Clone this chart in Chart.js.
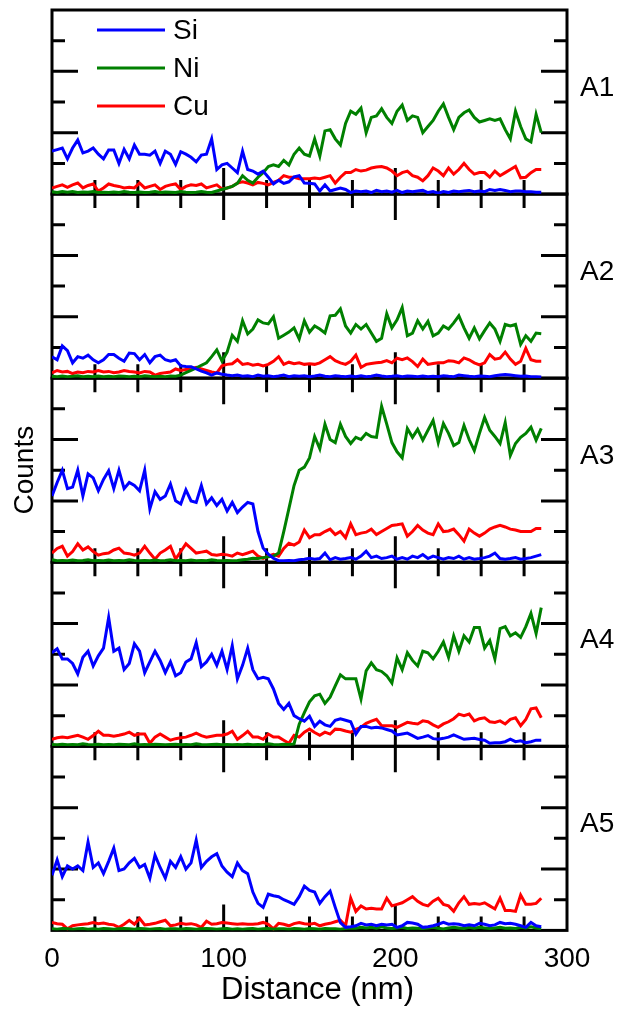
<!DOCTYPE html>
<html>
<head>
<meta charset="utf-8">
<script src="https://cdn.jsdelivr.net/npm/chart.js@4.4.0/dist/chart.umd.min.js"></script>
<style>
  html, body { margin: 0; padding: 0; background: #fff; }
  #wrap { position: relative; width: 623px; height: 1012px; }
</style>
</head>
<body>
<div id="wrap"><canvas id="chart" width="623" height="1012"></canvas></div>
<script>
// distance along the line scan (nm)
const distance = [0,3,6,9,12,15,18,21,24,27,30,33,36,39,42,45,48,51,54,57,60,63,66,69,72,75,78,81,84,87,90,93,96,99,102,105,108,111,114,117,120,123,126,129,132,135,138,141,144,147,150,153,156,159,162,165,168,171,174,177,180,183,186,189,192,195,198,201,204,207,210,213,216,219,222,225,228,231,234,237,240,243,246,249,252,255,258,261,264,267,270,273,276,279,282,285];

const panelNames = ['A1', 'A2', 'A3', 'A4', 'A5'];
const elementNames = ['Si', 'Ni', 'Cu'];
const elementColors = ['#0000ff', '#008000', '#ff0000'];
const yTicks = [1, 2, 3, 4, 5];
const xTicks = [25, 50, 75, 100, 125, 150, 175, 200, 225, 250, 275];
const xTitle = 'Distance (nm)';
const yTitle = 'Counts';

// A1
const siA1 = [1.4,1.45,1.5,1.15,1.5,1.76,1.34,1.4,1.5,1.3,1.15,1.44,
  1.44,1.0,1.46,1.15,1.6,1.3,1.3,1.27,1.4,1.0,1.4,1.3,
  0.97,1.38,1.3,1.2,1.05,1.27,1.3,1.8,0.8,0.95,1.0,0.85,
  0.7,1.4,0.8,0.75,0.65,0.75,0.55,0.33,0.45,0.35,0.4,0.56,
  0.6,0.36,0.35,0.33,0.1,0.3,0.1,0.15,0.2,0.15,0.05,0.1,
  0.08,0.1,0.05,0.12,0.08,0.1,0.06,0.12,0.05,0.1,0.08,0.1,
  0.12,0.05,0.08,0.03,0.08,0.05,0.1,0.08,0.1,0.12,0.08,0.1,
  0.08,0.15,0.12,0.15,0.12,0.08,0.1,0.1,0.08,0.08,0.06,0.06];
const niA1 = [0.08,0.05,0.08,0.06,0.08,0.05,0.07,0.06,0.08,0.05,0.06,0.05,
  0.07,0.05,0.08,0.06,0.05,0.07,0.05,0.06,0.08,0.05,0.07,0.06,
  0.05,0.08,0.06,0.05,0.06,0.08,0.06,0.05,0.1,0.15,0.2,0.25,
  0.35,0.6,0.45,0.36,0.55,0.7,0.9,0.95,0.9,1.1,0.95,1.3,
  1.5,1.3,1.24,1.8,1.24,2.06,2.1,1.8,1.6,2.3,2.7,2.6,
  2.8,2.0,2.5,2.55,2.78,2.5,2.3,2.7,2.9,2.4,2.55,2.5,
  2.0,2.2,2.4,2.7,2.94,2.5,2.1,2.5,2.65,2.74,2.5,2.35,
  2.4,2.45,2.4,2.45,2.1,1.8,2.7,2.2,1.8,1.7,2.6,2.0];
const cuA1 = [0.2,0.25,0.3,0.22,0.3,0.36,0.2,0.28,0.33,0.1,0.2,0.33,
  0.28,0.25,0.2,0.22,0.2,0.36,0.2,0.25,0.3,0.15,0.25,0.3,
  0.33,0.15,0.25,0.3,0.28,0.33,0.2,0.25,0.3,0.17,0.2,0.25,
  0.36,0.4,0.36,0.3,0.38,0.35,0.3,0.38,0.45,0.6,0.55,0.55,
  0.5,0.5,0.5,0.52,0.5,0.55,0.6,0.36,0.55,0.7,0.7,0.8,
  0.75,0.78,0.85,0.88,0.9,0.85,0.75,0.6,0.7,0.75,0.6,0.55,
  0.43,0.6,0.85,0.75,0.6,0.85,0.65,0.8,1.0,0.8,0.65,0.7,
  0.7,0.55,0.75,0.6,0.7,0.8,0.9,0.53,0.55,0.7,0.8,0.8];

// A2
const siA2 = [0.7,0.6,1.05,0.9,0.5,0.7,0.65,0.75,0.6,0.5,0.6,0.77,
  0.77,0.65,0.55,0.82,0.8,0.6,0.77,0.5,0.7,0.75,0.6,0.55,
  0.6,0.4,0.38,0.37,0.3,0.23,0.17,0.1,0.17,0.13,0.1,0.08,
  0.1,0.06,0.08,0.05,0.1,0.06,0.08,0.05,0.07,0.1,0.05,0.08,
  0.06,0.08,0.05,0.07,0.1,0.06,0.05,0.08,0.06,0.05,0.07,0.05,
  0.08,0.05,0.06,0.1,0.07,0.05,0.06,0.08,0.05,0.07,0.06,0.05,
  0.07,0.05,0.06,0.05,0.08,0.06,0.05,0.1,0.08,0.06,0.05,0.07,
  0.06,0.05,0.08,0.1,0.12,0.1,0.08,0.06,0.07,0.05,0.05,0.04];
const niA2 = [0.06,0.05,0.07,0.05,0.06,0.08,0.05,0.06,0.05,0.07,0.05,0.06,
  0.05,0.07,0.06,0.05,0.06,0.05,0.08,0.06,0.05,0.06,0.05,0.07,
  0.06,0.1,0.18,0.25,0.33,0.42,0.5,0.7,0.92,0.56,0.85,1.4,
  1.2,1.87,1.44,1.6,1.9,1.8,1.77,2.0,1.3,1.4,1.5,1.64,
  1.28,1.87,1.5,1.7,1.6,1.47,2.03,2.05,2.26,1.7,1.47,1.75,
  1.6,1.75,1.47,1.2,1.3,2.1,1.64,1.9,2.3,1.38,1.47,1.87,
  1.6,1.85,1.38,1.47,1.7,1.6,1.8,2.03,1.64,1.3,1.64,1.28,
  1.55,1.8,1.6,1.2,1.75,1.7,1.75,1.1,1.38,1.2,1.47,1.45];
const cuA2 = [0.17,0.25,0.2,0.22,0.15,0.2,0.18,0.22,0.2,0.25,0.2,0.22,
  0.18,0.2,0.25,0.22,0.2,0.17,0.22,0.2,0.1,0.15,0.18,0.2,
  0.3,0.25,0.28,0.3,0.35,0.3,0.25,0.2,0.17,0.4,0.45,0.47,
  0.6,0.45,0.48,0.42,0.45,0.4,0.45,0.55,0.7,0.45,0.52,0.47,
  0.5,0.45,0.47,0.45,0.5,0.6,0.7,0.57,0.5,0.45,0.55,0.75,
  0.35,0.45,0.48,0.5,0.52,0.57,0.5,0.65,0.6,0.66,0.54,0.38,
  0.62,0.45,0.48,0.5,0.5,0.57,0.55,0.5,0.66,0.6,0.5,0.43,
  0.5,0.77,0.62,0.65,0.85,0.62,0.45,0.55,0.97,0.6,0.55,0.55];

// A3
const siA3 = [2.16,2.6,3.0,2.4,2.45,3.0,2.16,2.88,2.75,2.33,2.7,2.98,
  2.4,3.0,2.4,2.6,2.5,2.33,3.0,1.74,2.3,2.05,2.16,2.55,
  2.0,1.9,2.36,2.0,1.95,2.5,1.9,2.1,1.85,2.05,1.67,1.95,
  1.62,1.8,1.95,1.9,1.0,0.46,0.26,0.13,0.05,0.05,0.06,0.05,
  0.08,0.1,0.13,0.1,0.12,0.3,0.08,0.15,0.1,0.12,0.15,0.1,
  0.2,0.36,0.15,0.2,0.12,0.15,0.2,0.1,0.15,0.1,0.2,0.15,
  0.25,0.12,0.2,0.15,0.1,0.15,0.12,0.2,0.1,0.15,0.1,0.12,
  0.15,0.2,0.3,0.12,0.1,0.12,0.15,0.1,0.12,0.15,0.2,0.25];
const niA3 = [0.08,0.05,0.06,0.05,0.07,0.05,0.06,0.08,0.05,0.06,0.05,0.07,
  0.05,0.06,0.05,0.08,0.06,0.05,0.06,0.05,0.07,0.05,0.06,0.08,
  0.05,0.06,0.05,0.07,0.05,0.06,0.05,0.08,0.06,0.05,0.06,0.05,
  0.06,0.08,0.1,0.13,0.12,0.15,0.18,0.2,0.3,1.0,1.75,2.5,
  3.0,3.1,3.4,4.1,3.7,4.5,4.0,3.9,4.5,4.1,3.87,4.07,
  4.0,4.2,4.1,4.07,5.08,4.5,3.9,3.6,3.4,4.36,4.07,4.33,
  3.98,4.3,4.62,3.9,4.52,4.2,3.8,3.9,4.46,4.0,3.64,4.2,
  4.72,4.3,4.1,3.87,4.55,3.48,3.87,4.07,4.2,4.4,3.98,4.36];
const cuA3 = [0.3,0.45,0.52,0.2,0.35,0.6,0.4,0.5,0.35,0.23,0.28,0.3,
  0.4,0.46,0.3,0.28,0.23,0.3,0.52,0.3,0.1,0.3,0.4,0.52,
  0.1,0.35,0.6,0.45,0.3,0.33,0.36,0.25,0.23,0.26,0.24,0.2,
  0.3,0.25,0.3,0.36,0.2,0.13,0.2,0.26,0.2,0.45,0.62,0.56,
  0.66,1.05,0.8,0.9,0.9,1.0,1.08,0.9,1.0,0.8,1.25,0.9,
  0.95,0.98,1.08,0.9,1.0,1.1,1.2,1.22,1.25,0.85,1.0,1.2,
  1.05,0.95,0.9,1.25,1.0,1.02,1.08,0.9,0.69,1.08,0.95,0.85,
  0.95,1.08,1.15,1.2,1.15,1.08,1.05,1.0,1.0,1.0,1.1,1.1];

// A4
const siA4 = [3.05,3.18,2.85,2.85,2.7,2.36,2.9,3.1,2.62,2.95,3.2,4.2,
  3.1,3.2,2.5,2.7,3.34,3.1,2.4,2.75,3.1,2.8,2.4,2.75,
  2.3,2.4,2.75,2.85,3.38,2.6,2.75,3.0,2.64,3.1,2.5,3.28,
  2.2,2.64,3.2,2.5,2.2,2.25,2.2,1.87,1.4,1.2,1.4,1.0,
  0.9,0.82,0.98,0.65,0.82,0.7,0.65,0.85,0.9,0.85,0.8,0.4,
  0.65,0.65,0.6,0.62,0.6,0.55,0.5,0.37,0.4,0.43,0.35,0.26,
  0.3,0.35,0.25,0.23,0.26,0.3,0.37,0.3,0.23,0.25,0.26,0.22,
  0.2,0.1,0.12,0.12,0.15,0.23,0.15,0.18,0.12,0.15,0.2,0.2];
const niA4 = [0.06,0.05,0.07,0.05,0.06,0.05,0.08,0.06,0.05,0.07,0.05,0.06,
  0.05,0.07,0.06,0.05,0.08,0.05,0.06,0.05,0.07,0.06,0.05,0.06,
  0.07,0.05,0.06,0.05,0.08,0.06,0.05,0.06,0.07,0.05,0.06,0.05,
  0.06,0.05,0.07,0.05,0.06,0.05,0.08,0.06,0.05,0.07,0.06,0.08,
  0.72,1.1,1.45,1.65,1.7,1.4,1.6,1.97,2.33,2.2,2.2,2.2,
  1.54,2.46,2.72,2.5,2.44,2.3,2.06,2.88,2.5,3.05,2.8,2.62,
  3.1,3.05,2.85,3.1,3.4,2.9,3.6,3.1,3.6,3.4,3.87,3.87,
  3.2,3.45,2.85,3.84,3.9,3.6,3.7,3.55,3.9,4.33,3.68,4.52];
const cuA4 = [0.23,0.28,0.3,0.28,0.32,0.36,0.3,0.23,0.35,0.49,0.36,0.36,
  0.33,0.36,0.4,0.46,0.36,0.4,0.4,0.1,0.3,0.4,0.3,0.2,
  0.25,0.28,0.3,0.36,0.43,0.35,0.3,0.33,0.36,0.36,0.4,0.49,
  0.23,0.35,0.49,0.3,0.3,0.23,0.4,0.3,0.3,0.2,0.1,0.36,
  0.3,0.46,0.56,0.45,0.36,0.46,0.4,0.56,0.55,0.5,0.46,0.55,
  0.62,0.75,0.82,0.88,0.67,0.67,0.67,0.62,0.7,0.78,0.75,0.73,
  0.83,0.8,0.7,0.62,0.73,0.8,0.9,1.05,1.0,1.05,0.83,0.9,
  0.93,0.8,0.78,0.83,0.73,0.88,0.93,0.67,0.88,1.22,1.25,0.93];

// A5
const siA5 = [1.8,2.3,1.75,2.1,2.0,2.1,1.95,2.88,2.05,2.2,1.85,2.25,
  2.68,1.95,2.0,2.2,2.35,2.05,2.15,1.7,2.45,2.05,1.7,2.25,
  2.05,2.4,2.0,2.2,2.94,2.05,2.25,2.4,2.5,2.1,1.9,1.75,
  2.2,1.95,1.85,1.25,0.88,0.75,1.18,1.13,1.1,1.0,0.93,0.85,
  1.1,1.44,1.3,1.25,0.88,1.1,1.28,0.75,0.25,0.1,0.12,0.15,
  0.23,0.18,0.2,0.15,0.2,0.18,0.2,0.1,0.15,0.26,0.24,0.2,
  0.1,0.12,0.15,0.2,0.26,0.2,0.22,0.2,0.15,0.18,0.15,0.23,
  0.2,0.15,0.18,0.26,0.22,0.23,0.2,0.15,0.1,0.26,0.15,0.12];
const niA5 = [0.05,0.04,0.06,0.05,0.04,0.05,0.06,0.04,0.05,0.04,0.06,0.05,
  0.04,0.05,0.06,0.05,0.04,0.06,0.05,0.04,0.05,0.06,0.04,0.05,
  0.05,0.04,0.06,0.05,0.04,0.05,0.06,0.05,0.04,0.05,0.06,0.04,
  0.05,0.04,0.05,0.06,0.04,0.05,0.06,0.04,0.05,0.05,0.04,0.06,
  0.05,0.04,0.06,0.05,0.04,0.06,0.05,0.05,0.04,0.06,0.08,0.07,
  0.1,0.08,0.1,0.07,0.12,0.08,0.06,0.08,0.1,0.06,0.08,0.07,
  0.06,0.08,0.1,0.07,0.05,0.08,0.1,0.08,0.06,0.1,0.07,0.1,
  0.08,0.06,0.08,0.1,0.07,0.08,0.06,0.1,0.08,0.12,0.08,0.06];
const cuA5 = [0.26,0.22,0.2,0.05,0.15,0.18,0.2,0.22,0.26,0.22,0.24,0.2,
  0.18,0.1,0.2,0.33,0.2,0.39,0.18,0.2,0.23,0.28,0.33,0.15,
  0.18,0.23,0.2,0.22,0.18,0.1,0.3,0.2,0.22,0.26,0.24,0.22,
  0.2,0.22,0.2,0.2,0.22,0.26,0.2,0.05,0.23,0.2,0.15,0.22,
  0.26,0.22,0.2,0.23,0.15,0.2,0.23,0.28,0.33,0.15,1.05,0.62,
  0.8,0.7,0.72,0.7,0.7,1.05,0.8,0.85,0.9,1.0,1.1,0.95,
  0.85,0.8,0.95,1.05,0.85,0.8,0.62,0.9,1.1,0.85,0.88,0.85,
  0.9,0.8,0.7,1.05,0.65,0.65,0.62,1.15,0.85,0.85,0.88,1.05];

const series = [
  [siA1, niA1, cuA1],
  [siA2, niA2, cuA2],
  [siA3, niA3, cuA3],
  [siA4, niA4, cuA4],
  [siA5, niA5, cuA5]
];

const FONT = "'Liberation Sans', Arial, sans-serif";
Chart.defaults.font.family = FONT;
Chart.defaults.font.size = 28;
Chart.defaults.color = '#000';

const datasets = [];
panelNames.forEach((panel, p) => {
  series[p].forEach((values, e) => {
    datasets.push({
      label: elementNames[e],
      data: values.map((v, i) => ({ x: distance[i], y: v })),
      borderColor: elementColors[e],
      backgroundColor: elementColors[e],
      borderWidth: 3,
      pointRadius: 0,
      tension: 0,
      yAxisID: 'y' + panel
    });
  });
});

const scales = {
  x: {
    type: 'linear',
    min: 0,
    max: 300,
    ticks: { stepSize: 100, padding: 12, color: '#000', maxRotation: 0 },
    grid: { display: false, drawTicks: false },
    border: { display: false }
  }
};
// one y axis per panel, stacked top to bottom
panelNames.forEach((panel, p) => {
  scales['y' + panel] = {
    type: 'linear',
    display: false,
    position: 'left',
    stack: 'panels',
    stackWeight: 1,
    weight: panelNames.length - p,
    min: 0,
    max: 6
  };
});

// frames, inward ticks, panel names, legend and titles
const panelFrames = {
  id: 'panelFrames',
  beforeDatasetsDraw(chart) {
    const ctx = chart.ctx;
    const xs = chart.scales.x;
    const left = xs.getPixelForValue(xs.min);
    const right = xs.getPixelForValue(xs.max);
    ctx.save();
    ctx.strokeStyle = '#000';
    ctx.lineWidth = 3;
    ctx.lineCap = 'butt';
    panelNames.forEach((panel, p) => {
      const ys = chart.scales['y' + panel];
      const top = ys.getPixelForValue(ys.max);
      const bottom = ys.getPixelForValue(ys.min);
      ctx.strokeRect(left, top, right - left, bottom - top);
      ctx.beginPath();
      yTicks.forEach(v => {
        const y = ys.getPixelForValue(v);
        const len = v % 2 === 0 ? 26 : 13;
        ctx.moveTo(left, y);
        ctx.lineTo(left + len, y);
        ctx.moveTo(right, y);
        ctx.lineTo(right - len, y);
      });
      xTicks.forEach(v => {
        const x = xs.getPixelForValue(v);
        const len = v % 100 === 0 ? 26 : 14;
        if (p > 0) {
          ctx.moveTo(x, top);
          ctx.lineTo(x, top + len);
        }
        ctx.moveTo(x, bottom);
        ctx.lineTo(x, bottom - len);
      });
      ctx.stroke();
    });
    ctx.restore();
  },
  afterDatasetsDraw(chart) {
    const ctx = chart.ctx;
    const area = chart.chartArea;
    ctx.save();
    ctx.fillStyle = '#000';
    ctx.font = '28px ' + FONT;
    ctx.textBaseline = 'middle';

    // panel names on the right
    ctx.textAlign = 'left';
    panelNames.forEach(panel => {
      const ys = chart.scales['y' + panel];
      ctx.fillText(panel, area.right + 13, ys.top + 78);
    });

    // legend
    elementNames.forEach((name, e) => {
      const y = area.top + 20 + e * 38;
      ctx.strokeStyle = elementColors[e];
      ctx.lineWidth = 3;
      ctx.beginPath();
      ctx.moveTo(area.left + 45, y);
      ctx.lineTo(area.left + 113, y);
      ctx.stroke();
      ctx.fillStyle = '#000';
      ctx.fillText(name, area.left + 121, y + 1);
    });

    // x title
    ctx.font = '31px ' + FONT;
    ctx.textAlign = 'center';
    ctx.fillText(xTitle, (area.left + area.right) / 2 + 8, area.bottom + 60);

    // y title
    ctx.font = '28px ' + FONT;
    ctx.translate(25, (area.top + area.bottom) / 2);
    ctx.rotate(-Math.PI / 2);
    ctx.fillText(yTitle, 0, 0);
    ctx.restore();
  }
};

new Chart(document.getElementById('chart'), {
  type: 'line',
  data: { datasets },
  options: {
    responsive: false,
    animation: false,
    layout: { padding: { left: 52, right: 56, top: 10, bottom: 24 } },
    scales,
    plugins: {
      legend: { display: false },
      tooltip: { enabled: false }
    }
  },
  plugins: [panelFrames]
});
</script>
</body>
</html>
